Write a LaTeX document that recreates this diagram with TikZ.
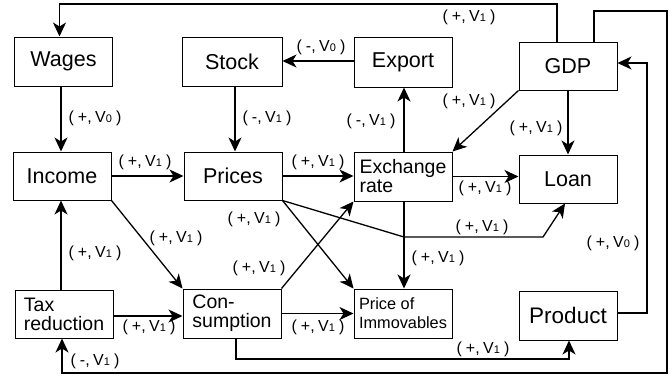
\documentclass[tikz,border=0pt]{standalone}
\usepackage{fontspec}
\setmainfont{Liberation Sans}
\usetikzlibrary{arrows.meta,calc}
\newcommand{\lbl}[2]{(\hspace{4pt}#1,\hspace{3.5pt}V{\fontsize{11}{11}\selectfont #2}\hspace{4pt})}
\begin{document}
\begin{tikzpicture}[x=1pt,y=-1pt,
 box/.style={draw, line width=1pt, minimum width=98pt, minimum height=49pt, inner sep=0pt, font=\fontsize{21.5}{24}\selectfont},
 box2/.style={box, align=left, font=\fontsize{19.5}{19}\selectfont},
 arr/.style={line width=1.3pt, -{Stealth[length=14pt,width=13pt,inset=4pt]}},
 ln/.style={line width=1.3pt},
 loopln/.style={line width=1.7pt},
 lab/.style={font=\fontsize{16}{16}\selectfont, inner sep=0pt}]
\useasboundingbox (0,0) rectangle (672,376);

% boxes
\node[box] (Wages) at (63.5,61.5) {Wages};
\node[box, minimum width=100pt] (Stock) at (232,61.5) {Stock};
\node[box, minimum height=50pt] (Export) at (403,62) {Export};
\node[box, minimum height=48pt] (GDP) at (568,66) {GDP};
\node[box, minimum height=48pt] (Income) at (62,176) {Income};
\node[box, minimum height=48pt] (Prices) at (233,176) {Prices};
\node[box2] (Exch) at (403,176.5) {Exchange\\rate};
\node[box, minimum height=48pt] (Loan) at (568,179) {Loan};
\node[box2, minimum height=48pt] (Tax) at (64,314) {Tax\\reduction};
\node[box2] (Cons) at (232,313.5) {Con-\\sumption};
\node[box2, font=\fontsize{16.3}{18.7}\selectfont] (Immo) at (403,313.5) {Price of\\Immovables};
\node[box, font=\fontsize{22.5}{24}\selectfont] (Prod) at (568,315.5) {Product};

% helper coordinates
\coordinate (topA) at (0,4);
\coordinate (topB) at (0,11);
\coordinate (rightB) at (667,0);
\coordinate (botB) at (0,373);
\coordinate (rightP) at (647,0);
\coordinate (botC) at (0,359);
\coordinate (jA) at (404,237);
\coordinate (jB) at (543,237);

% connectors
\draw[arr, loopln] ([xshift=-11pt]GDP.north) -- ([xshift=-11pt]GDP.north |- topA) -| ([xshift=-4pt]Wages.north);
\draw[arr] ([xshift=-2.5pt]Wages.south) -- ([xshift=-2.5pt]Wages.south |- Income.north);
\draw[arr] ([yshift=1pt]Export.west) -- ([yshift=1pt]Export.west -| Stock.east);
\draw[arr] ([xshift=3pt]Stock.south) -- ([xshift=3pt]Stock.south |- Prices.north);
\draw[arr] (Income.east) -- (Prices.west);
\draw[arr] (Prices.east) -- (Prices.east -| Exch.west);
\draw[arr] ([xshift=1pt]Exch.north) -- ([xshift=1pt]Exch.north |- Export.south);
\draw[arr] (GDP.south west) -- (Exch.north east);
\draw[arr] (GDP.south) -- (Loan.north);
\draw[arr] (Exch.east) -- (Exch.east -| Loan.west);
\draw[arr] (Prices.south east) -- (jA) -- (jB) -- ([xshift=-3pt]Loan.south);
\draw[arr] (Prices.south east) -- (Immo.north west);
\draw[arr] (Cons.north east) -- (Exch.south west);
\draw[arr] (Income.south east) -- (Cons.north west);
\draw[arr] ([xshift=-3pt]Tax.north) -- ([xshift=-3pt]Tax.north |- Income.south);
\draw[arr] ([yshift=-2pt]Tax.east) -- ([yshift=-2pt]Tax.east -| Cons.west);
\draw[arr] (Cons.east) -- (Cons.east -| Immo.west);
\draw[arr] ([xshift=1pt]Exch.south) -- ([xshift=1pt]Exch.south |- Immo.north);
\draw[arr] ([xshift=4pt]Cons.south) -- ([xshift=4pt]Cons.south |- botC) -| ([xshift=1pt]Prod.south);
\draw[arr] ([yshift=2.5pt]Prod.east) -- ([yshift=2.5pt]Prod.east -| rightP) |- ([yshift=3pt]GDP.east);
\draw[arr, loopln] ([xshift=26pt]GDP.north) -- ([xshift=26pt]GDP.north |- topB) -| (rightB |- botB) -| ([xshift=-2pt]Tax.south);

% labels
\node[lab] (l1) at (469,17) {\lbl{+}{1}};
\node[lab] (l2) at (95,118) {\lbl{+}{0}};
\node[lab] (l3) at (321,47) {\lbl{-}{0}};
\node[lab] (l4) at (267,118) {\lbl{-}{1}};
\node[lab] (l5) at (145,162) {\lbl{+}{1}};
\node[lab] (l6) at (318,162) {\lbl{+}{1}};
\node[lab] (l7) at (371,121) {\lbl{-}{1}};
\node[lab] (l8) at (469,101) {\lbl{+}{1}};
\node[lab] (l9) at (536,128) {\lbl{+}{1}};
\node[lab] (l10) at (485,188) {\lbl{+}{1}};
\node[lab] (l11) at (482,227) {\lbl{+}{1}};
\node[lab] (l12) at (254,219) {\lbl{+}{1}};
\node[lab] (l13) at (259,268) {\lbl{+}{1}};
\node[lab] (l14) at (176,238) {\lbl{+}{1}};
\node[lab] (l15) at (95,253) {\lbl{+}{1}};
\node[lab] (l16) at (149,327) {\lbl{+}{1}};
\node[lab] (l17) at (318,327) {\lbl{+}{1}};
\node[lab] (l18) at (438,258) {\lbl{+}{1}};
\node[lab] (l19) at (483,349) {\lbl{+}{1}};
\node[lab] (l20) at (613,243) {\lbl{+}{0}};
\node[lab] (l21) at (95,361) {\lbl{-}{1}};
\end{tikzpicture}
\end{document}
